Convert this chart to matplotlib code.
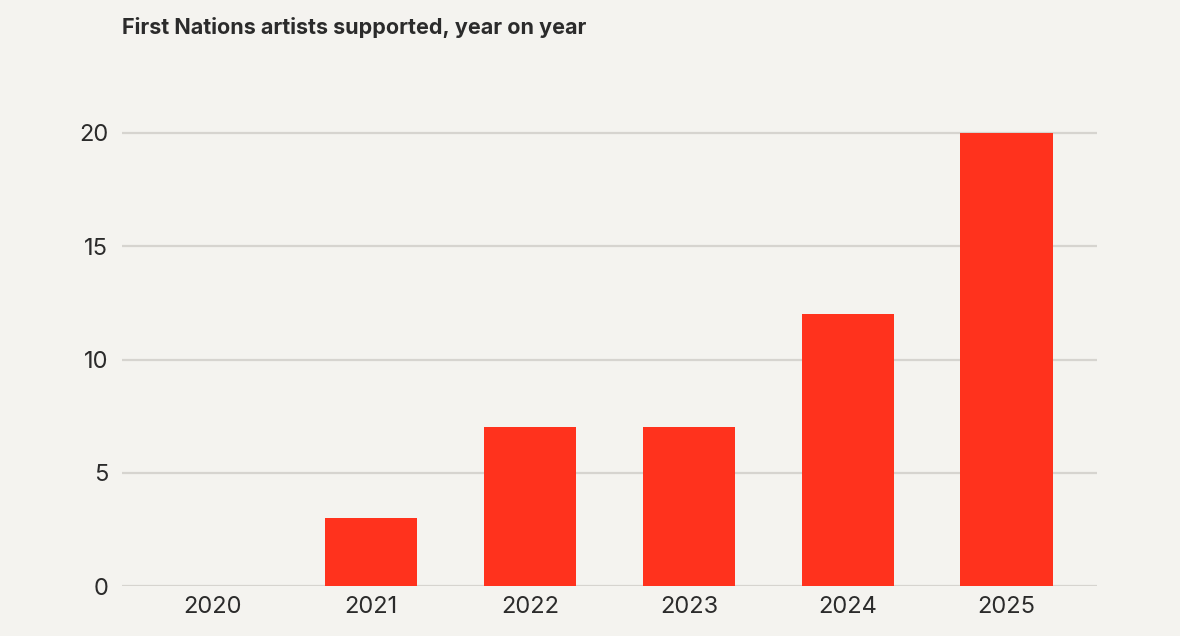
import matplotlib

matplotlib.use('Agg')
import matplotlib.pyplot as plt
import numpy as np

anos = ['2020', '2021', '2022', '2023', '2024', '2025']
artistas = [0, 3, 7, 7, 12, 20]
ticks_y = [0, 5, 10, 15, 20]

fundo = '#f4f3ef'
cor_barra = '#ff321d'
cor_texto = '#2b2b2b'
cor_grade = '#d6d4cf'

plt.rcParams['font.family'] = ['Inter', 'DejaVu Sans']

fig = plt.figure(figsize=(11.8, 6.36), dpi=100)
fig.patch.set_facecolor(fundo)
ax = fig.add_axes([0.1034, 0.0786, 0.8263, 0.7301])
ax.set_facecolor(fundo)

x = np.arange(len(anos))
ax.bar(x, artistas, width=0.58, color=cor_barra, zorder=3)

ax.set_xlim(-0.57, 5.57)
ax.set_ylim(0, 20.5)
ax.set_yticks(ticks_y)
ax.set_xticks(x)
ax.set_xticklabels(anos)
ax.grid(axis='y', color=cor_grade, linewidth=1.6, zorder=0)
for s in ax.spines.values():
    s.set_visible(False)
ax.tick_params(axis='both', length=0, labelsize=17, colors=cor_texto)
ax.tick_params(axis='y', pad=10)
ax.tick_params(axis='x', pad=7)

fig.text(122 / 1180, 1 - 28 / 636, 'First Nations artists supported, year on year',
         fontsize=15.5, fontweight='bold', color=cor_texto, va='center', ha='left')

fig.savefig('out.png', dpi=100, facecolor=fundo)
